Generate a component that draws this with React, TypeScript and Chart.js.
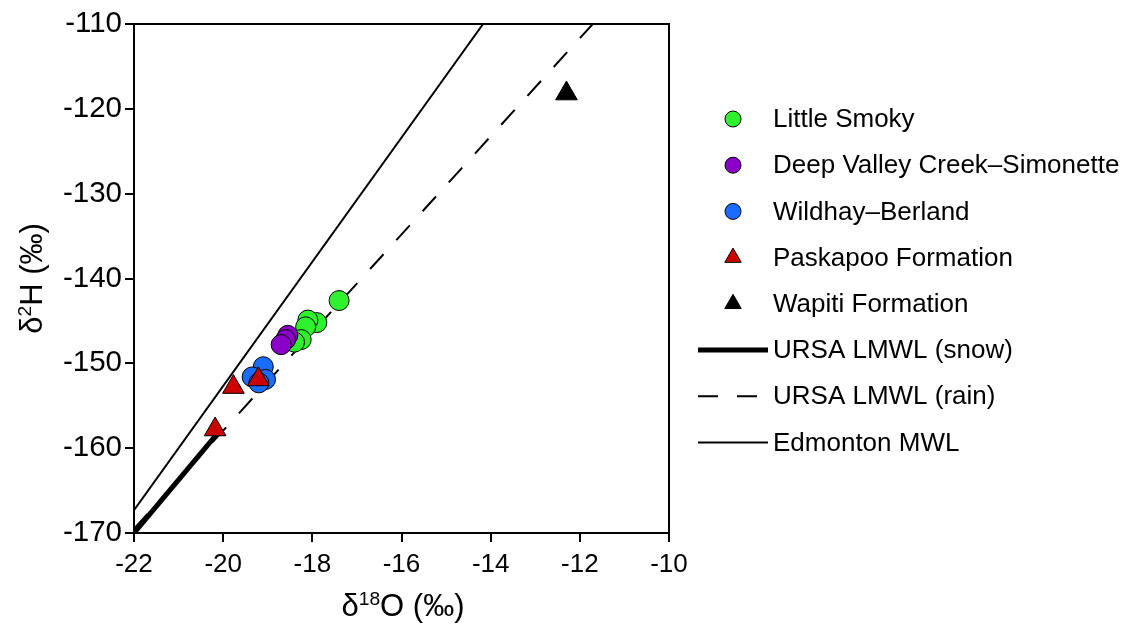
import React, { useEffect, useRef } from "react";
import { Chart, registerables } from "chart.js";

Chart.register(...registerables);

// ---------- data ----------
const xTickValues = [-22, -20, -18, -16, -14, -12, -10];
const yTickValues = [-170, -160, -150, -140, -130, -120, -110];

const littleSmokyX = [-17.4, -17.9, -18.1, -18.15, -18.25, -18.4];
const littleSmokyY = [-142.6, -145.2, -144.9, -145.7, -147.2, -147.5];

const deepValleyX = [-18.55, -18.6, -18.7];
const deepValleyY = [-146.7, -147.2, -147.8];

const wildhayX = [-19.1, -19.35, -19.05, -19.2];
const wildhayY = [-150.4, -151.6, -151.9, -152.3];

const paskapooX = [-19.77, -19.21, -20.18];
const paskapooY = [-152.8, -151.9, -157.8];

const wapitiX = [-12.3];
const wapitiY = [-118.2];

// line endpoints
const snowLineX = [-22, -20.15];
const snowLineY = [-170, -158.4];
const rainLineX = [-22, -11.71];
const rainLineY = [-169.5, -110];
const edmontonLineX = [-22, -14.17];
const edmontonLineY = [-167.3, -110];

const seriesLabels = [
  "Little Smoky",
  "Deep Valley Creek\u2013Simonette",
  "Wildhay\u2013Berland",
  "Paskapoo Formation",
  "Wapiti Formation",
  "URSA LMWL (snow)",
  "URSA LMWL (rain)",
  "Edmonton MWL",
];

const colors = {
  green: "#2ef22e",
  purple: "#8a00c8",
  blue: "#1a6cff",
  red: "#cc0000",
  black: "#000000",
};

const FONT = "'Liberation Sans', Arial, Helvetica, sans-serif";

const zip = (xs: number[], ys: number[]) => xs.map((x, i) => ({ x, y: ys[i] }));

const frameAndDecor = {
  id: "frameAndDecor",
  afterDatasetsDraw(chart: any) {
    const { ctx, chartArea } = chart;
    ctx.save();
    ctx.strokeStyle = "#000";
    ctx.lineWidth = 2;
    ctx.beginPath();
    ctx.moveTo(chartArea.left, chartArea.top);
    ctx.lineTo(chartArea.right, chartArea.top);
    ctx.lineTo(chartArea.right, chartArea.bottom);
    ctx.stroke();
    ctx.restore();
  },
  afterDraw(chart: any) {
    const { ctx, chartArea } = chart;
    ctx.save();
    ctx.fillStyle = "#000";
    ctx.textBaseline = "alphabetic";

    // axis titles with superscripts
    const drawSup = (parts: { t: string; sup?: boolean }[], size: number) => {
      let total = 0;
      const widths = parts.map((p) => {
        ctx.font = `${p.sup ? size * 0.62 : size}px ${FONT}`;
        const w = ctx.measureText(p.t).width;
        total += w;
        return w;
      });
      let x = -total / 2;
      parts.forEach((p, i) => {
        ctx.font = `${p.sup ? size * 0.62 : size}px ${FONT}`;
        ctx.fillText(p.t, x, p.sup ? -size * 0.36 : 0);
        x += widths[i];
      });
    };

    ctx.save();
    ctx.translate(403, 616);
    drawSup([{ t: "\u03b4" }, { t: "18", sup: true }, { t: "O (\u2030)" }], 31);
    ctx.restore();

    ctx.save();
    ctx.translate(42, (chartArea.top + chartArea.bottom) / 2);
    ctx.rotate(-Math.PI / 2);
    drawSup([{ t: "\u03b4" }, { t: "2", sup: true }, { t: "H (\u2030)" }], 31);
    ctx.restore();

    // legend
    const ds = chart.data.datasets;
    const legendOrder = [4, 3, 2, 0, 1, 5, 6, 7];
    const markerX = 733;
    const textX = 773;
    const startY = 119;
    const step = 46.2;
    legendOrder.forEach((di, row) => {
      const d = ds[di];
      const y = startY + row * step;
      if (d.showLine) {
        ctx.save();
        ctx.strokeStyle = "#000";
        ctx.lineWidth = d.borderWidth;
        ctx.setLineDash(d.borderDash || []);
        ctx.beginPath();
        ctx.moveTo(698, y);
        ctx.lineTo(768, y);
        ctx.stroke();
        ctx.restore();
      } else {
        ctx.save();
        ctx.fillStyle = d.backgroundColor;
        ctx.strokeStyle = "#000";
        ctx.lineWidth = 1;
        ctx.beginPath();
        if (d.pointStyle === "triangle") {
          const r = 9.5;
          ctx.moveTo(markerX, y - r);
          ctx.lineTo(markerX + r * 0.866, y + r * 0.5);
          ctx.lineTo(markerX - r * 0.866, y + r * 0.5);
          ctx.closePath();
        } else {
          ctx.arc(markerX, y, 8, 0, Math.PI * 2);
        }
        ctx.fill();
        ctx.stroke();
        ctx.restore();
      }
      ctx.font = `26px ${FONT}`;
      ctx.fillStyle = "#000";
      ctx.textBaseline = "middle";
      ctx.fillText(d.label, textX, y + 1);
    });
    ctx.restore();
  },
};

export default function App() {
  const canvasRef = useRef<HTMLCanvasElement | null>(null);

  useEffect(() => {
    const canvas = canvasRef.current;
    if (!canvas) return;

    const pointDs = (label: string, xs: number[], ys: number[], color: string, style: string, r: number, order: number) => ({
      label,
      data: zip(xs, ys),
      backgroundColor: color,
      borderColor: "#000",
      borderWidth: 1,
      pointStyle: style,
      pointRadius: r,
      showLine: false,
      order,
    });
    const lineDs = (label: string, xs: number[], ys: number[], width: number, dash: number[], order: number) => ({
      label,
      data: zip(xs, ys),
      borderColor: "#000",
      backgroundColor: "#000",
      borderWidth: width,
      borderDash: dash,
      borderCapStyle: "butt",
      pointRadius: 0,
      showLine: true,
      fill: false,
      order,
    });

    const chart = new Chart(canvas, {
      type: "scatter",
      data: {
        datasets: [
          pointDs(seriesLabels[3], paskapooX, paskapooY, colors.red, "triangle", 12.5, 0),
          pointDs(seriesLabels[4], wapitiX, wapitiY, colors.black, "triangle", 12.5, 1),
          pointDs(seriesLabels[2], wildhayX, wildhayY, colors.blue, "circle", 10, 2),
          pointDs(seriesLabels[1], deepValleyX, deepValleyY, colors.purple, "circle", 10, 3),
          pointDs(seriesLabels[0], littleSmokyX, littleSmokyY, colors.green, "circle", 10, 4),
          lineDs(seriesLabels[5], snowLineX, snowLineY, 5, [], 5),
          lineDs(seriesLabels[6], rainLineX, rainLineY, 2, [20, 19], 6),
          lineDs(seriesLabels[7], edmontonLineX, edmontonLineY, 2, [], 7),
        ] as any,
      },
      options: {
        animation: false,
        responsive: false,
        maintainAspectRatio: false,
        layout: { padding: { left: 0, right: 456, top: 24, bottom: 0 } },
        plugins: { legend: { display: false }, tooltip: { enabled: false } },
        scales: {
          x: {
            type: "linear",
            min: xTickValues[0],
            max: xTickValues[xTickValues.length - 1],
            afterBuildTicks: (s: any) => {
              s.ticks = xTickValues.map((v) => ({ value: v }));
            },
            ticks: {
              color: "#000",
              font: { family: FONT, size: 26 },
              padding: 7,
              callback: (v: any) => String(v),
            },
            grid: { display: true, drawOnChartArea: false, drawTicks: true, tickLength: 9, color: "#000", lineWidth: 2 },
            border: { display: true, color: "#000", width: 2 },
            afterFit: (s: any) => {
              s.height = 98;
            },
          },
          y: {
            type: "linear",
            min: yTickValues[0],
            max: yTickValues[yTickValues.length - 1],
            afterBuildTicks: (s: any) => {
              s.ticks = yTickValues.map((v) => ({ value: v }));
            },
            ticks: {
              color: "#000",
              font: { family: FONT, size: 29.5 },
              padding: 3,
              callback: (v: any) => String(v),
            },
            grid: { display: true, drawOnChartArea: false, drawTicks: true, tickLength: 9, color: "#000", lineWidth: 2 },
            border: { display: true, color: "#000", width: 2 },
            afterFit: (s: any) => {
              s.width = 134;
            },
          },
        },
      },
      plugins: [frameAndDecor],
    });

    return () => chart.destroy();
  }, []);

  return (
    <div style={{ position: "fixed", left: 0, top: 0, width: 1125, height: 631, background: "#fff" }}>
      <canvas ref={canvasRef} width={1125} height={631} style={{ width: 1125, height: 631, display: "block" }} />
    </div>
  );
}
